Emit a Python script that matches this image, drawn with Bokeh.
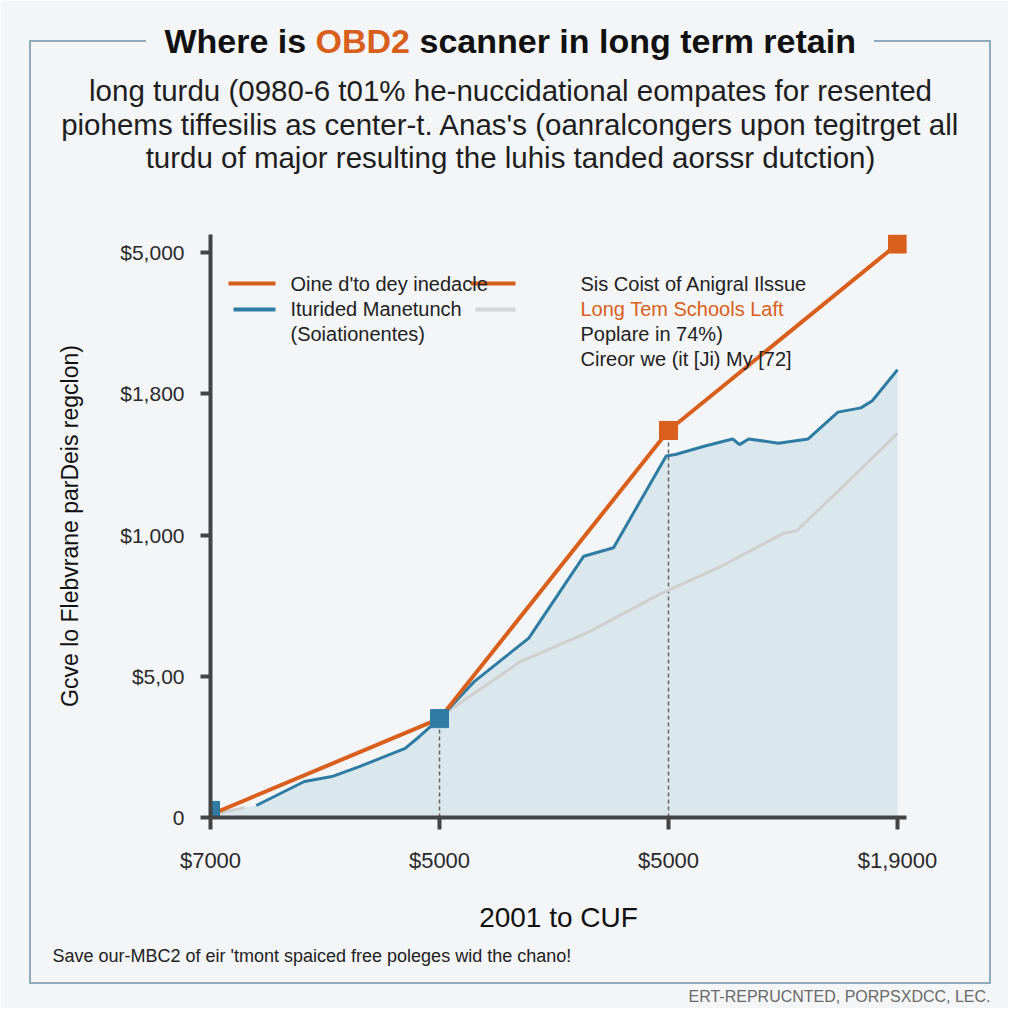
from bokeh.plotting import figure
from bokeh.models import Range1d, FixedTicker, Label, BoxAnnotation, InlineStyleSheet
from bokeh.embed import file_html
from bokeh.resources import INLINE

# ---------------- data ----------------
x_ticks = [0, 1, 2, 3]
x_tick_labels = ["$7000", "$5000", "$5000", "$1,9000"]
y_ticks = [0, 1, 2, 3, 4]
y_tick_labels = ["0", "$5,00", "$1,000", "$1,800", "$5,000"]

orange_x = [0, 1, 2, 3]
orange_y = [0.02, 0.70, 2.74, 4.06]

blue_x = [0.20, 0.41, 0.53, 0.65, 0.85, 0.91, 1.00, 1.15, 1.39, 1.63, 1.76, 1.99,
          2.03, 2.16, 2.28, 2.31, 2.35, 2.48, 2.61, 2.74, 2.84, 2.89, 3.00]
blue_y = [0.085, 0.255, 0.29, 0.36, 0.49, 0.57, 0.70, 0.96, 1.27, 1.85, 1.91, 2.56,
          2.57, 2.63, 2.68, 2.64, 2.68, 2.65, 2.68, 2.87, 2.90, 2.95, 3.17]

gray_x = [0.00, 0.15, float("nan"), 1.00, 1.07, 1.35, 1.66, 1.96, 2.22, 2.50, 2.56, 2.76, 3.00]
gray_y = [0.02, 0.07, float("nan"), 0.70, 0.79, 1.10, 1.32, 1.58, 1.77, 2.01, 2.03, 2.34, 2.72]

fill_x = [0.0] + blue_x
fill_top = [0.02] + blue_y

blue_marker_x = [0, 1]
blue_marker_y = [0.05, 0.70]
orange_marker_x = [2, 3]
orange_marker_y = [2.74, 4.06]

drop_x = [1, 2]
drop_top = [0.70, 2.74]

title_parts = ["Where is", "OBD2", "scanner in long term retain"]
subtitle_lines = [
    "long turdu (0980-6 t01% he-nuccidational eompates for resented",
    "piohems tiffesilis as center-t. Anas's (oanralcongers upon tegitrget all",
    "turdu of major resulting the luhis tanded aorssr dutction)",
]
legend_left = ["Oine d'to dey inedacle", "Iturided Manetunch", "(Soiationentes)"]
legend_right = ["Sis Coist of Anigral Ilssue", "Long Tem Schools Laft",
                "Poplare in 74%)", "Cireor we (it [Ji) My [72]"]
y_axis_title = "Gcve lo Flebvrane parDeis regclon)"
x_axis_title = "2001 to CUF"
footer_note = "Save our-MBC2 of eir 'tmont spaiced free poleges wid the chano!"
credit = "ERT-REPRUCNTED, PORPSXDCC, LEC."

# ---------------- styling / layout ----------------
ORANGE = "#d95f1c"
BLUE = "#2e7ca3"
GRAY = "#cfcfcf"
FILL = "#d8e6eb"
AXIS = "#444444"
BG = "#f3f5f7"
FRAME = "#8eaabb"
FONT = "Liberation Sans"

W = H = 1008
XS, YS = 229.0, 141.25
RPAD = 9                       # room at the right so the last marker is not cut
frame_left, frame_w = 210, int(3 * XS) + RPAD
frame_top, frame_bottom = 234, 817
frame_h = frame_bottom - frame_top

p = figure(frame_width=frame_w, frame_height=frame_h,
           min_border_left=frame_left, min_border_right=W - frame_left - frame_w,
           min_border_top=frame_top, min_border_bottom=H - frame_bottom,
           x_range=Range1d(0, frame_w / XS), y_range=Range1d(0, frame_h / YS),
           output_backend="svg", toolbar_location=None, tools="")
p.background_fill_color = BG
p.border_fill_color = BG
p.outline_line_color = None
p.grid.visible = False

# light outer box (with a gap behind the title), as a page decoration
box_css = f"""
:host::after {{
  content: ""; position: absolute; left: 29px; top: 40px;
  width: 958px; height: 942px;
  border: 2px solid {FRAME}; border-top: none;
  pointer-events: none; z-index: 5;
}}
:host::before {{
  content: ""; position: absolute; left: 29px; top: 40px;
  width: 962px; height: 2px;
  background: linear-gradient(to right, {FRAME} 0px, {FRAME} 117px,
              transparent 117px, transparent 845px, {FRAME} 845px, {FRAME} 962px);
  pointer-events: none; z-index: 5;
}}
"""
p.stylesheets = [InlineStyleSheet(css=box_css)]

for ax in (p.xaxis[0], p.yaxis[0]):
    ax.axis_line_color = AXIS
    ax.axis_line_width = 4
    ax.major_tick_line_color = AXIS
    ax.major_tick_line_width = 4
    ax.major_tick_in = 0
    ax.minor_tick_line_color = None
    ax.major_label_text_font = FONT
    ax.major_label_text_color = "#2a2a2a"
    ax.axis_label_text_font = FONT
    ax.axis_label_text_font_style = "normal"
    ax.axis_label_text_color = "#111111"

p.xaxis.ticker = FixedTicker(ticks=x_ticks)
p.xaxis.major_label_overrides = {t: l for t, l in zip(x_ticks, x_tick_labels)}
p.xaxis.major_tick_out = 12
p.xaxis.major_label_standoff = 18
p.xaxis.major_label_text_font_size = "22px"
p.xaxis.axis_label = x_axis_title
p.xaxis.axis_label_text_font_size = "28px"
p.xaxis.axis_label_standoff = 26

p.yaxis.ticker = FixedTicker(ticks=y_ticks)
p.yaxis.major_label_overrides = {t: l for t, l in zip(y_ticks, y_tick_labels)}
p.yaxis.major_tick_out = 10
p.yaxis.major_label_standoff = 16
p.yaxis.major_label_text_font_size = "21px"
p.yaxis.axis_label = y_axis_title
p.yaxis.axis_label_text_font_size = "23px"
p.yaxis.axis_label_standoff = 34

# data marks
p.varea(x=fill_x, y1=[0] * len(fill_x), y2=fill_top, fill_color=FILL, fill_alpha=0.95)
p.segment(x0=drop_x, y0=[0] * len(drop_x), x1=drop_x, y1=drop_top,
          line_color="#666666", line_width=1.5, line_dash="4 3")
p.line(gray_x, gray_y, line_color=GRAY, line_width=3)
p.line(blue_x, blue_y, line_color=BLUE, line_width=3)
p.line(orange_x, orange_y, line_color=ORANGE, line_width=4)
p.scatter(blue_marker_x, blue_marker_y, marker="square", size=18, fill_color=BLUE,
          line_color=BLUE)
p.scatter(orange_marker_x, orange_marker_y, marker="square", size=18, fill_color=ORANGE,
          line_color=ORANGE)


# ---- decorations in canvas units (x from left, y from top) ----
def rect(x1, x2, y1, y2, color):
    p.add_layout(BoxAnnotation(left=x1, right=x2, top=y1, bottom=y2,
                               left_units="canvas", right_units="canvas",
                               top_units="canvas", bottom_units="canvas",
                               fill_color=color, fill_alpha=1, line_color=None))


def text(px, py, s, size, color="#1a1a1a", align="left", style="normal",
         place="above"):
    lab = Label(x=px, y=py, x_units="canvas", y_units="canvas", text=s,
                text_font=FONT, text_font_size=f"{size}px", text_color=color,
                text_align=align, text_baseline="middle", text_font_style=style)
    if place == "center":
        p.add_layout(lab)
    else:
        p.add_layout(lab, place)


# title
text(164, 40, title_parts[0], 34, "#111111", style="bold")
text(315, 40, title_parts[1], 34, ORANGE, style="bold")
text(419, 40, title_parts[2], 34, "#111111", style="bold")

# subtitle
for i, line in enumerate(subtitle_lines):
    text(510, 90 + 33.5 * i, line, 29.5, "#1e1e1e", align="center")

# legend (manual, inside the plotting frame)
rect(228, 275, 281, 285, ORANGE)
rect(233, 275, 307, 311, BLUE)
rect(470, 515, 281, 285, ORANGE)
rect(475, 515, 307, 311, "#d6d6d6")
for i, s in enumerate(legend_left):
    text(290, 283 + 25 * i, s, 20, "#222222", place="center")
for i, s in enumerate(legend_right):
    text(580, 283 + 25 * i, s, 20, ORANGE if i == 1 else "#222222", place="center")

# footer
text(52, 955, footer_note, 18, "#222222", place="below")
text(990, 996, credit, 16, "#6a6a6a", align="right", place="below")

open("out.html", "w").write(file_html(p, INLINE))
